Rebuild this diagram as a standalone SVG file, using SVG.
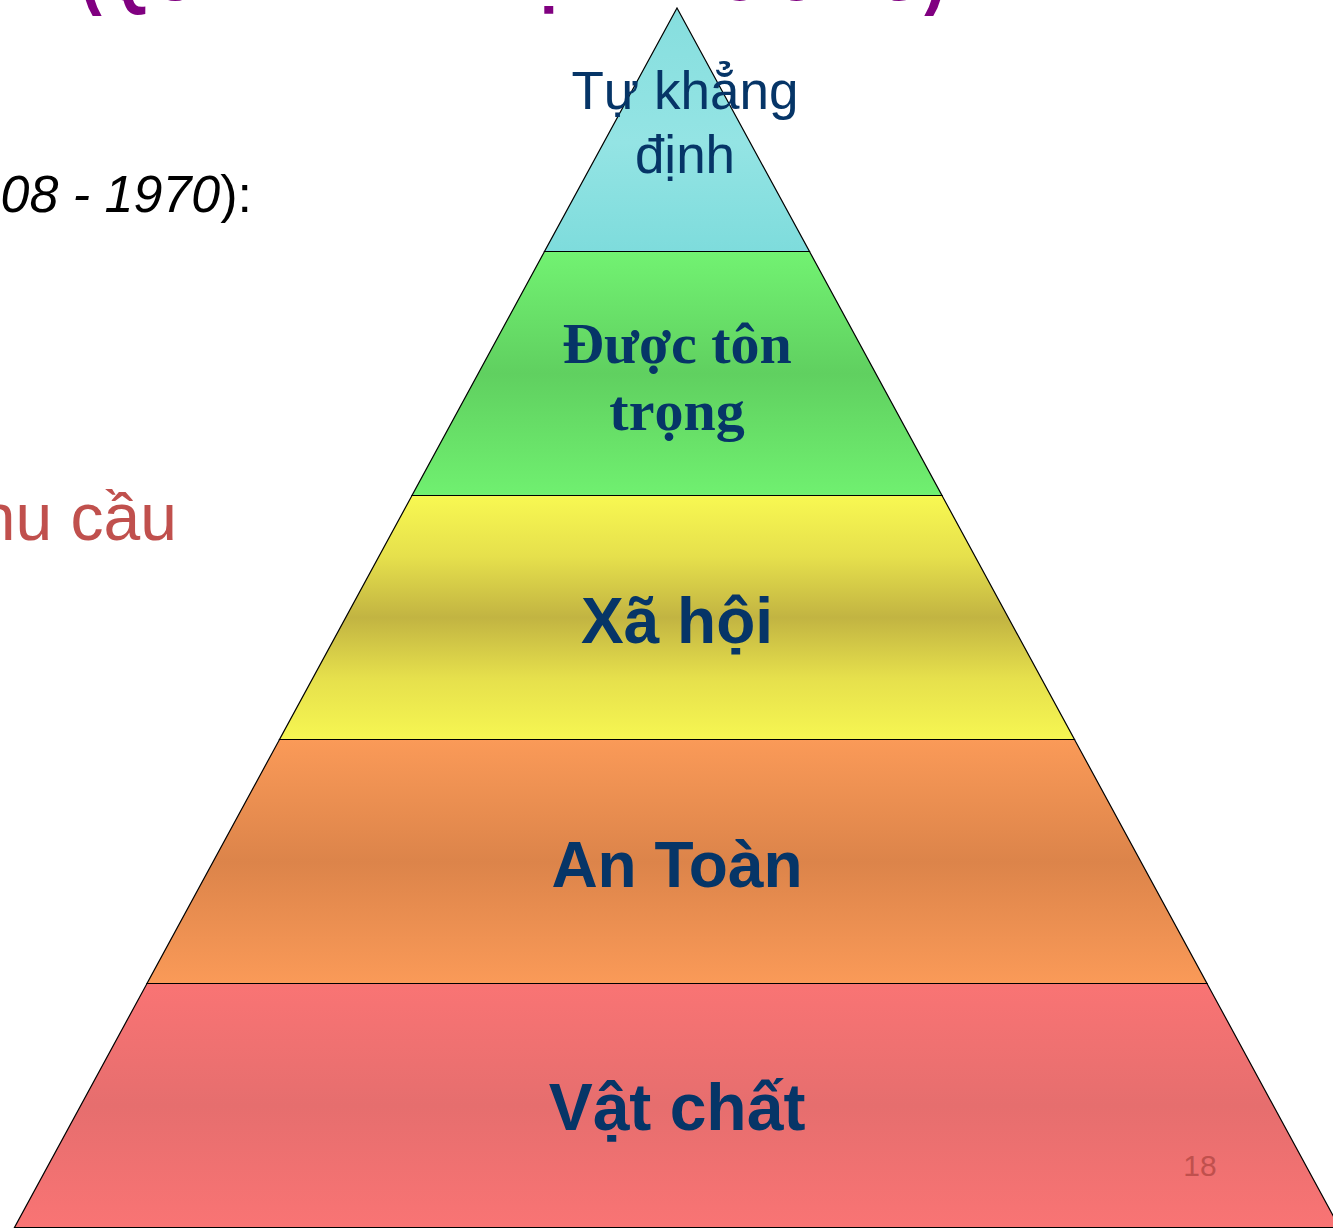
<svg xmlns="http://www.w3.org/2000/svg" width="1333" height="1230" viewBox="0 0 1333 1230">
<defs>
<style>
.lvl{stroke:#000;stroke-width:1.2;stroke-linejoin:miter}
.lab{font-family:"Liberation Sans",Arial,sans-serif;font-weight:bold;fill:#063567;text-anchor:middle}
</style>
<linearGradient id="gCyan" x1="0" y1="0" x2="0" y2="1">
<stop offset="0" stop-color="#86DEDE"/><stop offset="0.55" stop-color="#94E4E4"/><stop offset="1" stop-color="#7EDCDC"/>
</linearGradient>
<linearGradient id="gGreen" x1="0" y1="0" x2="0" y2="1">
<stop offset="0" stop-color="#72F272"/><stop offset="0.5" stop-color="#60D060"/><stop offset="1" stop-color="#70F070"/>
</linearGradient>
<linearGradient id="gYellow" x1="0" y1="0" x2="0" y2="1">
<stop offset="0" stop-color="#F8F852"/><stop offset="0.25" stop-color="#E6E04C"/><stop offset="0.5" stop-color="#C2B442"/><stop offset="0.75" stop-color="#E6E04C"/><stop offset="1" stop-color="#F6F652"/>
</linearGradient>
<linearGradient id="gOrange" x1="0" y1="0" x2="0" y2="1">
<stop offset="0" stop-color="#FA9A58"/><stop offset="0.5" stop-color="#DC844A"/><stop offset="1" stop-color="#FA9A58"/>
</linearGradient>
<linearGradient id="gRed" x1="0" y1="0" x2="0" y2="1">
<stop offset="0" stop-color="#F97474"/><stop offset="0.5" stop-color="#E66E6E"/><stop offset="1" stop-color="#F97474"/>
</linearGradient>
</defs>
<rect width="1333" height="1230" fill="#fff"/>

<g id="title">
<text x="80" y="0" font-family="'Liberation Sans',Arial,sans-serif" font-weight="bold" font-size="76" fill="#800080" textLength="866" lengthAdjust="spacingAndGlyphs">(QUAN ĐIỂM ĐỊNH HƯỚNG)</text>
</g>

<g id="left-text">
<text x="252" y="212" font-family="'Liberation Sans',Arial,sans-serif" font-size="52" fill="#000" text-anchor="end"><tspan font-style="italic">08 - 1970</tspan>):</text>
<text x="177" y="540" font-family="'Liberation Sans',Arial,sans-serif" font-size="66" fill="#C0504D" text-anchor="end">nhu cầu</text>
</g>

<g id="level-tu-khang-dinh">
<polygon class="lvl" points="677,8 809.5,251.5 544.5,251.5" fill="url(#gCyan)"/>
<text x="685" y="109" font-family="'Liberation Sans',Arial,sans-serif" font-size="53" fill="#063567" text-anchor="middle">Tự khẳng</text>
<text x="685" y="173" font-family="'Liberation Sans',Arial,sans-serif" font-size="53" fill="#063567" text-anchor="middle">định</text>
</g>

<g id="level-duoc-ton-trong">
<polygon class="lvl" points="544.5,251.5 809.5,251.5 942,495.5 412,495.5" fill="url(#gGreen)"/>
<text x="677" y="363" font-family="'Liberation Serif','Times New Roman',serif" font-weight="bold" font-size="58" fill="#063567" text-anchor="middle">Được tôn</text>
<text x="677" y="430" font-family="'Liberation Serif','Times New Roman',serif" font-weight="bold" font-size="58" fill="#063567" text-anchor="middle">trọng</text>
</g>

<g id="level-xa-hoi">
<polygon class="lvl" points="412,495.5 942,495.5 1074.5,739.5 279.5,739.5" fill="url(#gYellow)"/>
<text class="lab" x="677" y="643" font-size="64">Xã hội</text>
</g>

<g id="level-an-toan">
<polygon class="lvl" points="279.5,739.5 1074.5,739.5 1207,983.5 147,983.5" fill="url(#gOrange)"/>
<text class="lab" x="677" y="887" font-size="64">An Toàn</text>
</g>

<g id="level-vat-chat">
<polygon class="lvl" points="147,983.5 1207,983.5 1339.5,1227.5 14.5,1227.5" fill="url(#gRed)"/>
<text class="lab" x="677" y="1130" font-size="66">Vật chất</text>
</g>

<g id="page-number">
<text x="1200" y="1176" font-family="'Liberation Sans',Arial,sans-serif" font-size="30" fill="#C0504D" text-anchor="middle">18</text>
</g>
</svg>
